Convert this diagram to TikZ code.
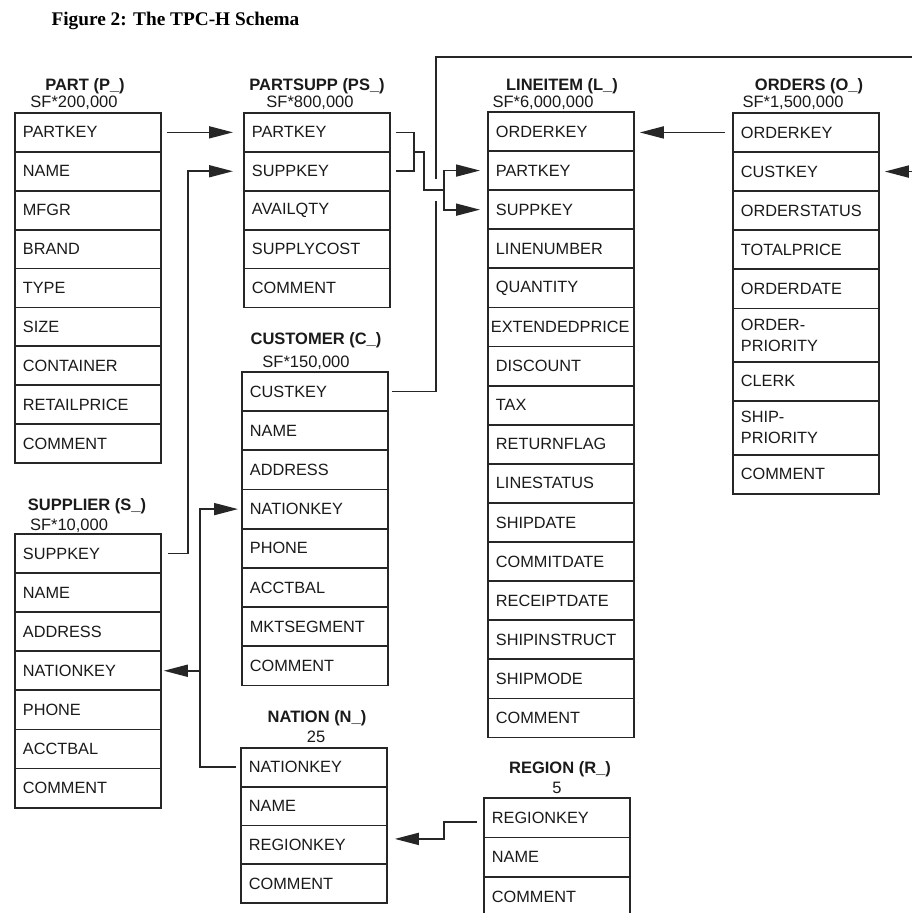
\documentclass[tikz,border=0pt]{standalone}
\usepackage{fontspec}
\setmainfont{Liberation Sans}
\newfontfamily\titleserif{Liberation Serif}
\usetikzlibrary{arrows.meta,calc}

\definecolor{ink}{HTML}{1A1A1A}
\definecolor{rule}{HTML}{262626}

\tikzset{
  field/.style={draw=rule, line width=1.8pt, anchor=north west,
    minimum height=39.1pt, text width=130pt, inner xsep=8pt, inner ysep=0pt,
    align=left, text=ink, font=\fontsize{16.3}{21}\selectfont},
  widefield/.style={field, text width=140pt, inner xsep=3pt},
  tablename/.style={anchor=base, text=ink, font=\fontsize{16.5}{20}\selectfont\bfseries},
  tablesize/.style={anchor=base, text=ink, font=\fontsize{16.5}{20}\selectfont},
  link/.style={draw=rule, line width=1.7pt},
  fk/.style={link, -{Triangle[length=24pt,width=12pt]}},
}

\begin{document}
\begin{tikzpicture}[x=1pt, y=-1pt]
  \fill[white] (0,0) rectangle (912,913);
  \useasboundingbox (0,0) rectangle (912,913);

  \node[anchor=base west, text=black,
        font={\fontsize{19.3}{23}\titleserif\bfseries}] (fig) at (48,25)
        {Figure 2: The TPC-H Schema};

  % PART
  \node[tablename] (p-title) at (85,90) {PART (P\_)};
  \node[tablesize] (p-card) at (74,107) {SF*200,000};
  \foreach [count=\i from 0] \k/\t in {partkey/PARTKEY, name/NAME, mfgr/MFGR,
      brand/BRAND, type/TYPE, size/SIZE, container/CONTAINER,
      retailprice/RETAILPRICE, comment/COMMENT}
    \node[field, minimum height=38.9pt] (p-\k) at (14,{112+\i*38.9}) {\t};

  % PARTSUPP
  \node[tablename] (ps-title) at (317,90) {PARTSUPP (PS\_)};
  \node[tablesize] (ps-card) at (310,107) {SF*800,000};
  \foreach [count=\i from 0] \k/\t in {partkey/PARTKEY, suppkey/SUPPKEY,
      availqty/AVAILQTY, supplycost/SUPPLYCOST, comment/COMMENT}
    \node[field, minimum height=38.9pt] (ps-\k) at (243,{112+\i*38.9}) {\t};

  % LINEITEM
  \node[tablename] (l-title) at (562,90) {LINEITEM (L\_)};
  \node[tablesize] (l-card) at (543,107) {SF*6,000,000};
  \foreach [count=\i from 0] \k/\t in {orderkey/ORDERKEY, partkey/PARTKEY,
      suppkey/SUPPKEY, linenumber/LINENUMBER, quantity/QUANTITY,
      extendedprice/, discount/DISCOUNT, tax/TAX, returnflag/RETURNFLAG,
      linestatus/LINESTATUS, shipdate/SHIPDATE, commitdate/COMMITDATE,
      receiptdate/RECEIPTDATE, shipinstruct/SHIPINSTRUCT, shipmode/SHIPMODE,
      comment/COMMENT}
    \node[field] (l-\k) at (487,{111+\i*39.1}) {\t};
  \node[widefield, draw=none] (l-extendedprice-text) at (l-extendedprice.north west)
    {EXTENDEDPRICE};

  % ORDERS
  \node[tablename] (o-title) at (809,90) {ORDERS (O\_)};
  \node[tablesize] (o-card) at (793,107) {SF*1,500,000};
  \node[field] (o-orderkey) at (732,112) {ORDERKEY};
  \node[field] (o-custkey) at (732,151.1) {CUSTKEY};
  \node[field] (o-orderstatus) at (732,190.2) {ORDERSTATUS};
  \node[field] (o-totalprice) at (732,229.3) {TOTALPRICE};
  \node[field] (o-orderdate) at (732,268.4) {ORDERDATE};
  \node[field, minimum height=53.3pt] (o-orderpriority) at (732,307.5) {ORDER-\\PRIORITY};
  \node[field] (o-clerk) at (732,360.8) {CLERK};
  \node[field, minimum height=54pt] (o-shippriority) at (732,399.9) {SHIP-\\PRIORITY};
  \node[field] (o-comment) at (732,453.9) {COMMENT};

  % CUSTOMER
  \node[tablename] (c-title) at (316,344) {CUSTOMER (C\_)};
  \node[tablesize] (c-card) at (306,367) {SF*150,000};
  \foreach [count=\i from 0] \k/\t in {custkey/CUSTKEY, name/NAME,
      address/ADDRESS, nationkey/NATIONKEY, phone/PHONE, acctbal/ACCTBAL,
      mktsegment/MKTSEGMENT, comment/COMMENT}
    \node[field, minimum height=39.2pt] (c-\k) at (241,{371+\i*39.2}) {\t};

  % SUPPLIER
  \node[tablename] (s-title) at (87,510) {SUPPLIER (S\_)};
  \node[tablesize] (s-card) at (69,530) {SF*10,000};
  \foreach [count=\i from 0] \k/\t in {suppkey/SUPPKEY, name/NAME,
      address/ADDRESS, nationkey/NATIONKEY, phone/PHONE, acctbal/ACCTBAL,
      comment/COMMENT}
    \node[field] (s-\k) at (14,{533+\i*39.1}) {\t};

  % NATION
  \node[tablename] (n-title) at (317,722) {NATION (N\_)};
  \node[tablesize] (n-card) at (316,742) {25};
  \foreach [count=\i from 0] \k/\t in {nationkey/NATIONKEY, name/NAME,
      regionkey/REGIONKEY, comment/COMMENT}
    \node[field, minimum height=38.8pt] (n-\k) at (240,{747+\i*38.8}) {\t};

  % REGION
  \node[tablename] (r-title) at (560,773) {REGION (R\_)};
  \node[tablesize] (r-card) at (557,793) {5};
  \foreach [count=\i from 0] \k/\t in {regionkey/REGIONKEY, name/NAME,
      comment/COMMENT}
    \node[field, minimum height=39.5pt] (r-\k) at (483,{797+\i*39.5}) {\t};

  % ---- foreign keys ----
  % PART -> PARTSUPP
  \draw[fk, shorten <=5pt, shorten >=10pt] (p-partkey.east) -- (ps-partkey.west);
  % SUPPLIER -> PARTSUPP
  \draw[fk, shorten <=6pt, shorten >=10pt] (s-suppkey.east) -- ++(26,0) |- (ps-suppkey.west);

  % junction points of the composite key PARTSUPP -> LINEITEM
  \coordinate (psj) at ($(ps-partkey.east)!0.5!(ps-suppkey.east)+(23,0)$);
  \coordinate (lj) at ($(l-partkey.west)!0.5!(l-suppkey.west)+(-43,0)$);

  % CUSTOMER -> ORDERS, hopping over the composite key line
  \coordinate (cbus) at ($(c-custkey.east)+(47,0)$);
  \coordinate (ctop) at (0,57);
  \coordinate (cright) at (915,0);
  \draw[link, shorten <=3pt] (c-custkey.east) -- (cbus) -- ($(cbus |- lj)+(0,11)$);
  \draw[fk, shorten >=5pt] ($(cbus |- lj)+(0,-11)$) -- (cbus |- ctop)
    -- (cright |- ctop) |- (o-custkey.east);

  % PARTSUPP -> LINEITEM
  \draw[link, shorten <=5pt, shorten >=5pt] (ps-partkey.east) -- (psj |- ps-partkey.east)
    -- (psj |- ps-suppkey.east) -- (ps-suppkey.east);
  \draw[link] (psj) -- ++(10,0) |- (lj);
  \draw[fk, shorten >=7pt] (lj) |- (l-partkey.west);
  \draw[fk, shorten >=7pt] (lj) |- (l-suppkey.west);

  % ORDERS -> LINEITEM
  \draw[fk, shorten <=7pt, shorten >=5pt] (o-orderkey.west) -- (l-orderkey.east |- o-orderkey.west);

  % NATION -> CUSTOMER and SUPPLIER
  \coordinate (nbus) at ($(n-nationkey.west)+(-40,0)$);
  \draw[fk, shorten <=4pt, shorten >=3pt] (n-nationkey.west) -- (nbus) |- (c-nationkey.west);
  \draw[fk, shorten >=2pt] (nbus |- s-nationkey.east) -- (s-nationkey.east);

  % REGION -> NATION
  \draw[fk, shorten <=6pt, shorten >=7pt] ($(r-regionkey.west)+(0,4)$) -- ++(-39,0)
    |- ($(n-regionkey.east)+(0,-6)$);
\end{tikzpicture}
\end{document}
